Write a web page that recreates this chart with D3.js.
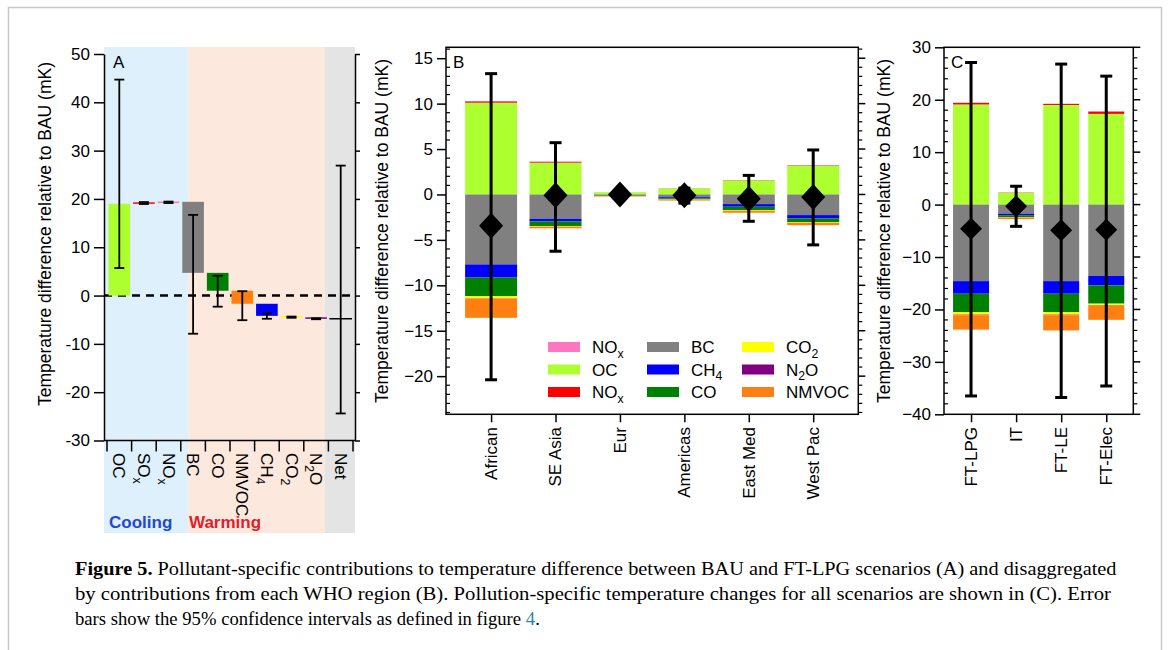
<!DOCTYPE html>
<html><head><meta charset="utf-8">
<script src="https://cdn.jsdelivr.net/npm/d3@7"></script>
<style>body{margin:0;background:#fff}svg{display:block}</style>
</head><body><svg id="c" width="1168" height="650"></svg>
<script>
// ---------------- DATA ----------------
// Panel A (waterfall, FT-LPG vs BAU)
const catsA   = ["OC","SOx","NOx","BC","CO","NMVOC","CH4","CO2","N2O","Net"];
const startA  = [0,    19.0, 19.3, 19.4, 4.7, 1.0, -1.7, -4.2, -4.5, -4.8];
const endA    = [19.0, 19.3, 19.45, 4.7, 1.0, -1.7, -4.2, -4.5, -4.8, -4.8];
const errLoA  = [5.7,  18.95, 19.15, -7.9, -2.3, -5.1, -4.8, -4.6, -4.9, -24.4];
const errHiA  = [44.7, 19.35, 19.45, 16.7, 4.1, 0.9, -3.7, -4.35, -4.7, 26.9];
const ticksA  = [50,40,30,20,10,0,-10,-20,-30];

// Panel B (WHO regions)
const regionsB = ["African","SE Asia","Eur","Americas","East Med","West Pac"];
const ocB    = [10.1, 3.5, 0.25, 0.65, 1.55, 3.15];
const soxB   = [0.15, 0.1, 0.0, 0.02, 0.03, 0.05];
const noxB   = [0.03, 0.02, 0.0, 0.0, 0.0, 0.0];
const bcB    = [-7.7, -2.67, -0.12, -0.3, -1.06, -2.27];
const ch4B   = [-1.45, -0.3, -0.02, -0.12, -0.29, -0.37];
const coB    = [-2.05, -0.5, -0.03, -0.12, -0.37, -0.4];
const co2B   = [-0.25, -0.07, -0.01, -0.03, -0.08, -0.08];
const n2oB   = [-0.03, -0.01, 0.0, 0.0, -0.01, -0.01];
const nmvocB = [-2.1, -0.18, -0.05, -0.1, -0.2, -0.25];
const netB   = [-3.45, -0.1, 0.0, -0.1, -0.47, -0.29];
const errHiB = [13.3, 5.7, 0.15, 0.7, 2.1, 4.9];
const errLoB = [-20.4, -6.25, -0.15, -0.95, -2.95, -5.55];

// Panel C (scenarios)
const scenC  = ["FT-LPG","IT","FT-LE","FT-Elec"];
const ocC    = [19.1, 2.25, 19.0, 17.3];
const soxC   = [0.3, 0.05, 0.2, 0.45];
const noxC   = [0.05, 0.01, 0.05, 0.05];
const bcC    = [-14.6, -1.72, -14.6, -13.6];
const ch4C   = [-2.4, -0.3, -2.4, -1.8];
const coC    = [-3.5, -0.35, -3.5, -3.5];
const co2C   = [-0.5, -0.08, -0.5, -0.35];
const n2oC   = [-0.1, -0.02, -0.1, -0.08];
const nmvocC = [-2.75, -0.3, -2.9, -2.65];
const netC   = [-4.6, -0.3, -4.9, -4.8];
const errHiC = [27.1, 3.5, 26.8, 24.5];
const errLoC = [-36.5, -4.15, -36.8, -34.6];

const keys = ["OC","SOx","NOx","BC","CH4","CO","CO2","N2O","NMVOC"];
const colors = {OC:"#adff2f", SOx:"#ff0000", NOx:"#ff77c0", BC:"#808080", CH4:"#0000ff",
  CO:"#008000", CO2:"#ffff00", N2O:"#800080", NMVOC:"#ff8010", Net:"none"};
const legendItems = [["NOx","NOx"],["OC","OC"],["SOx","NOx"],["BC","BC"],["CH4","CH4"],["CO","CO"],["CO2","CO2"],["N2O","N2O"],["NMVOC","NMVOC"]];

// ---------------- HELPERS ----------------
const FONT = "'Liberation Sans', Arial, sans-serif";
const svg = d3.select("#c");
const subParts = {SOx:[["SO",0],["x",1]], NOx:[["NO",0],["x",1]], CH4:[["CH",0],["4",1]],
  CO2:[["CO",0],["2",1]], N2O:[["N",0],["2",1],["O",0]]};
function writeLabel(t, name, size){
  const parts = subParts[name] || [[name,0]];
  let prevSub = 0;
  parts.forEach(([s,sub])=>{
    const ts = t.append("tspan").text(s);
    if (sub) { ts.attr("font-size", size*0.72).attr("dy", prevSub?0:size*0.28); }
    else if (prevSub) { ts.attr("dy", -size*0.28); }
    prevSub = sub;
  });
}
function errBar(g, x, y1, y2, cap, sw){
  g.append("line").attr("x1",x).attr("x2",x).attr("y1",y1).attr("y2",y2)
    .attr("stroke","#000").attr("stroke-width",sw);
  [y1,y2].forEach(y=>g.append("line").attr("x1",x-cap/2).attr("x2",x+cap/2)
    .attr("y1",y).attr("y2",y).attr("stroke","#000").attr("stroke-width",sw));
}
function diamond(g, cx, cy, w, h){
  g.append("path").attr("d",`M${cx},${cy-h}L${cx+w},${cy}L${cx},${cy+h}L${cx-w},${cy}Z`).attr("fill","#000");
}
function styleAxis(g, size){
  g.attr("font-family",FONT).attr("font-size",size);
  g.selectAll("line").attr("stroke","#000").attr("stroke-width",1.5);
  g.selectAll("path").attr("stroke","#000").attr("stroke-width",1.5);
  g.selectAll("text").attr("fill","#000");
}

// Frame
svg.append("rect").attr("x",8.5).attr("y",7.5).attr("width",1153).attr("height",700)
  .attr("fill","none").attr("stroke","#c8c8c8").attr("stroke-width",1.5);

// ---------------- PANEL A ----------------
const gA = svg.append("g");
const xA = d3.scaleBand().domain(catsA).range([107,353]).padding(0);
const yA = d3.scaleLinear().domain([-30,50]).range([440.5,54]);
const stepA = xA.step();
const bLeft = 104, bRight = 355;
const b1 = xA("BC") + 0.3*stepA, b2 = xA("Net") - 0.15*stepA;
gA.append("rect").attr("x",bLeft).attr("y",47).attr("width",b1-bLeft).attr("height",486).attr("fill","#ddf0fb");
gA.append("rect").attr("x",b1).attr("y",47).attr("width",b2-b1).attr("height",486).attr("fill","#fde8dd");
gA.append("rect").attr("x",b2).attr("y",47).attr("width",bRight-b2).attr("height",486).attr("fill","#e4e4e4");

// zero dashed line
gA.append("line").attr("x1",bLeft).attr("x2",bRight).attr("y1",yA(0)).attr("y2",yA(0))
  .attr("stroke","#000").attr("stroke-width",2.5).attr("stroke-dasharray","8,6");

catsA.forEach((c,i)=>{
  const cx = xA(c) + stepA/2, bw = stepA*0.88;
  if (c === "Net") {
    gA.append("line").attr("x1",xA(c)+1).attr("x2",xA(c)+stepA-1).attr("y1",yA(endA[i])).attr("y2",yA(endA[i]))
      .attr("stroke","#000").attr("stroke-width",1.5);
  } else {
    const y0 = yA(Math.max(startA[i],endA[i])), y1 = yA(Math.min(startA[i],endA[i]));
    gA.append("rect").attr("x",cx-bw/2).attr("y",y0).attr("width",bw).attr("height",Math.max(1.5,y1-y0))
      .attr("fill",colors[c]);
  }
  errBar(gA, cx, yA(errHiA[i]), yA(errLoA[i]), 10, 1.8);
});

// axes A
const axLA = gA.append("g").attr("transform",`translate(${bLeft},0)`)
  .call(d3.axisLeft(yA).tickValues(ticksA).tickSize(10).tickSizeOuter(0).tickPadding(4).tickFormat(d=>String(d)));
styleAxis(axLA, 17);
const axRA = gA.append("g").attr("transform",`translate(${bRight},0)`)
  .call(d3.axisRight(yA).tickValues(ticksA).tickSize(5).tickSizeOuter(0).tickFormat(""));
styleAxis(axRA, 17);
const axBA = gA.append("g").attr("transform",`translate(0,${yA(-30)})`)
  .call(d3.axisBottom(xA).tickValues([]).tickSizeOuter(0));
axBA.select("path").attr("d",`M${bLeft},0H${bRight}`);
styleAxis(axBA, 17);
catsA.concat(["_end"]).forEach((c,i)=>{
  const x = i < catsA.length ? xA(c) : xA.range()[1];
  gA.append("line").attr("x1",x).attr("x2",x).attr("y1",yA(-30)).attr("y2",yA(-30)+11)
    .attr("stroke","#000").attr("stroke-width",1.5);
});
catsA.forEach(c=>{
  const cx = xA(c)+stepA/2;
  const t = gA.append("text").attr("transform",`translate(${cx},453) rotate(90)`)
    .attr("dy","0.35em").attr("font-family",FONT).attr("font-size",17);
  writeLabel(t, c, 17);
});
gA.append("text").attr("x",113).attr("y",68).attr("font-family",FONT).attr("font-size",17).text("A");
gA.append("text").attr("x",109).attr("y",528).attr("font-family",FONT).attr("font-size",17)
  .attr("font-weight","bold").attr("fill","#2448c8").text("Cooling");
gA.append("text").attr("x",189).attr("y",528).attr("font-family",FONT).attr("font-size",17)
  .attr("font-weight","bold").attr("fill","#e0202a").text("Warming");
gA.append("text").attr("transform","translate(51,234) rotate(-90)").attr("text-anchor","middle")
  .attr("font-family",FONT).attr("font-size",17.5).text("Temperature difference relative to BAU (mK)");

// ---------------- STACKED PANELS ----------------
function stackedPanel(o){
  const g = svg.append("g");
  const x = d3.scalePoint().domain(o.cats).range([o.left,o.right]).padding(o.pad);
  const y = d3.scaleLinear().domain(o.domain).range([414.3,47.3]);
  const rows = o.cats.map((c,i)=>{
    const r = {cat:c};
    keys.forEach(k=>r[k]=o.series[k][i]);
    return r;
  });
  const stack = d3.stack().keys(keys).offset(d3.stackOffsetDiverging)(rows);
  stack.forEach(layer=>{
    g.selectAll(null).data(layer).enter().append("rect")
      .attr("x",d=>x(d.data.cat)-o.bw/2).attr("width",o.bw)
      .attr("y",d=>y(Math.max(d[0],d[1])))
      .attr("height",d=>Math.abs(y(d[0])-y(d[1])))
      .attr("fill",colors[layer.key]);
  });
  o.cats.forEach((c,i)=>errBar(g, x(c), y(o.hi[i]), y(o.lo[i]), 12, 3));
  o.cats.forEach((c,i)=>diamond(g, x(c), y(o.net[i]), o.dw, o.dh));
  g.append("rect").attr("x",o.left).attr("y",47.3).attr("width",o.right-o.left).attr("height",414.3-47.3)
    .attr("fill","none").attr("stroke","#000").attr("stroke-width",1.5);
  const minor = d3.range(o.domain[0] - (o.domain[0]%o.minor), o.domain[1], o.minor).filter(v=>Math.abs(v%o.major)>1e-6);
  const axL = g.append("g").attr("transform",`translate(${o.left},0)`)
    .call(d3.axisLeft(y).tickValues(o.majors).tickSize(9).tickSizeOuter(0).tickPadding(4));
  axL.select("path").remove();
  styleAxis(axL, 17);
  minor.forEach(v=>{
    g.append("line").attr("x1",o.left).attr("x2",o.left+4).attr("y1",y(v)).attr("y2",y(v)).attr("stroke","#000").attr("stroke-width",1.2);
    g.append("line").attr("x1",o.right).attr("x2",o.right+4).attr("y1",y(v)).attr("y2",y(v)).attr("stroke","#000").attr("stroke-width",1.2);
  });
  o.majors.forEach(v=>g.append("line").attr("x1",o.right).attr("x2",o.right+7).attr("y1",y(v)).attr("y2",y(v)).attr("stroke","#000").attr("stroke-width",1.5));
  const axB = g.append("g").attr("transform",`translate(0,414.3)`)
    .call(d3.axisBottom(x).tickSize(8).tickSizeOuter(0).tickFormat(""));
  axB.select("path").remove();
  styleAxis(axB, 17);
  o.cats.forEach(c=>{
    g.append("text").attr("transform",`translate(${x(c)},427) rotate(-90)`).attr("text-anchor","end")
      .attr("dy","0.35em").attr("font-family",FONT).attr("font-size",17).text(c);
  });
  g.append("text").attr("x",o.left+7).attr("y",68).attr("font-family",FONT).attr("font-size",17).text(o.letter);
  g.append("text").attr("transform",`translate(${o.ylabX},231) rotate(-90)`).attr("text-anchor","middle")
    .attr("font-family",FONT).attr("font-size",17.5).text("Temperature difference relative to BAU (mK)");
  return {g,x,y};
}

const B = stackedPanel({cats:regionsB, left:446, right:858.3, pad:0.7, bw:52, domain:[-24.2,16.2],
  majors:[-20,-15,-10,-5,0,5,10,15], minor:1, major:5, letter:"B", ylabX:388, dw:12, dh:13,
  series:{OC:ocB,SOx:soxB,NOx:noxB,BC:bcB,CH4:ch4B,CO:coB,CO2:co2B,N2O:n2oB,NMVOC:nmvocB},
  net:netB, hi:errHiB, lo:errLoB});

const C = stackedPanel({cats:scenC, left:944, right:1133.3, pad:0.6, bw:36, domain:[-40,30],
  majors:[-40,-30,-20,-10,0,10,20,30], minor:2, major:10, letter:"C", ylabX:890, dw:11, dh:11,
  series:{OC:ocC,SOx:soxC,NOx:noxC,BC:bcC,CH4:ch4C,CO:coC,CO2:co2C,N2O:n2oC,NMVOC:nmvocC},
  net:netC, hi:errHiC, lo:errLoC});

// Legend in B
const legCols = [548, 647, 742], legRows = [342, 364.5, 387];
legendItems.forEach(([key,label],i)=>{
  const cx = legCols[Math.floor(i/3)], cy = legRows[i%3];
  B.g.append("rect").attr("x",cx).attr("y",cy).attr("width",32).attr("height",10).attr("fill",colors[key]);
  const t = B.g.append("text").attr("x",cx+44).attr("y",cy+11).attr("font-family",FONT).attr("font-size",17);
  writeLabel(t, label, 17);
});

// ---------------- CAPTION ----------------
const SERIF = "'Liberation Serif', 'Times New Roman', serif";
function captionLine(y, parts){
  const g = svg.append("g").attr("transform",`translate(75,${y})`);
  const t = g.append("text").attr("x",0).attr("y",0).attr("font-family",SERIF).attr("font-size",18);
  parts.forEach(([s,opt])=>{
    const ts = t.append("tspan").text(s);
    if (opt === "b") ts.attr("font-weight","bold");
    if (opt === "link") ts.attr("fill","#2a7db8");
  });
  return {g, w: t.node().getComputedTextLength()};
}
const L1 = captionLine(575, [["Figure 5.","b"],[" Pollutant-specific contributions to temperature difference between BAU and FT-LPG scenarios (A) and disaggregated"]]);
const L2 = captionLine(600, [["by contributions from each WHO region (B). Pollution-specific temperature changes for all scenarios are shown in (C). Error"]]);
const L3 = captionLine(625, [["bars show the 95% confidence intervals as defined in figure "],["4","link"],["."]]);
L1.g.attr("transform",`translate(75,575) scale(${1042 / L1.w},1)`);
L2.g.attr("transform",`translate(75,600) scale(${1037 / L2.w},1)`);
L3.g.attr("transform",`translate(75,625) scale(${465 / L3.w},1)`);
</script></body></html>
